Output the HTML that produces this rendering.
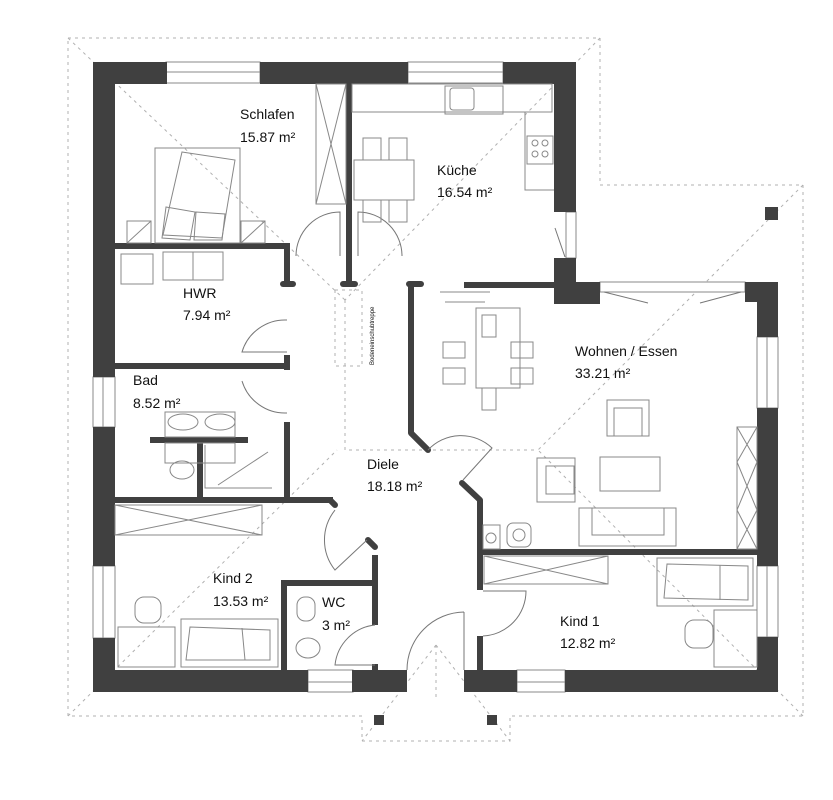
<!DOCTYPE html>
<html><head><meta charset="utf-8"><style>
html,body{margin:0;padding:0;background:#fff}
svg{display:block}
text{font-family:"Liberation Sans",sans-serif;font-size:14px;fill:#111}
</style></head><body>
<svg width="833" height="800" viewBox="0 0 833 800" xmlns="http://www.w3.org/2000/svg">
<g fill="none" stroke="#b0b0b0" stroke-width="1" stroke-dasharray="3,4">
<path d="M68,38 L600,38 L600,185 L803,185 L803,716 L510,716 L510,741 L362,741 L362,716 L68,716 Z"/>
<path d="M68,38 L345,300 M600,38 L345,300 M345,300 L345,450 L538,450 M68,716 L337,450 M803,185 L538,450 M803,716 L538,450 M436,645 L362,741 M436,645 L510,741 M436,645 L436,700"/>
<rect x="335" y="290" width="27" height="76"/>
</g>
<g fill="#fff" stroke="#888" stroke-width="1">
<rect x="166" y="62" width="94" height="21"/><line x1="166" y1="72" x2="260" y2="72"/>
<rect x="408" y="62" width="95" height="21"/><line x1="408" y1="72" x2="503" y2="72"/>
<rect x="566" y="212" width="10" height="46"/>
<rect x="600" y="282" width="145" height="10"/>
<rect x="757" y="337" width="21" height="71"/><line x1="767" y1="337" x2="767" y2="408"/>
<rect x="757" y="566" width="21" height="71"/><line x1="767" y1="566" x2="767" y2="637"/>
<rect x="517" y="670" width="48" height="22"/><line x1="517" y1="682" x2="565" y2="682"/>
<rect x="308" y="670" width="45" height="22"/><line x1="308" y1="682" x2="353" y2="682"/>
<rect x="93" y="377" width="22" height="50"/><line x1="103" y1="377" x2="103" y2="427"/>
<rect x="93" y="566" width="22" height="72"/><line x1="103" y1="566" x2="103" y2="638"/>
</g>
<g fill="#404040">
<rect x="93" y="62" width="74" height="22"/>
<rect x="260" y="62" width="148" height="22"/>
<rect x="503" y="62" width="73" height="22"/>
<rect x="554" y="62" width="22" height="150"/>
<path d="M554,258 L576,258 L576,282 L600,282 L600,304 L554,304 Z"/>
<rect x="464" y="282" width="90" height="6"/>
<path d="M745,282 L778,282 L778,337 L757,337 L757,302 L745,302 Z"/>
<rect x="757" y="408" width="21" height="158"/>
<rect x="757" y="637" width="21" height="55"/>
<rect x="565" y="670" width="213" height="22"/>
<rect x="464" y="670" width="53" height="22"/>
<rect x="352" y="670" width="55" height="22"/>
<rect x="93" y="670" width="215" height="22"/>
<rect x="93" y="62" width="22" height="315"/>
<rect x="93" y="427" width="22" height="139"/>
<rect x="93" y="638" width="22" height="54"/>
<rect x="115" y="243" width="175" height="6"/>
<rect x="284" y="243" width="6" height="43"/><rect x="280" y="281" width="16" height="6" rx="3"/>
<rect x="284" y="355" width="6" height="15"/>
<rect x="115" y="363" width="175" height="6"/>
<rect x="284" y="422" width="6" height="78"/>
<rect x="115" y="497" width="218" height="6"/>
<rect x="150" y="437" width="98" height="6"/>
<rect x="197" y="437" width="6" height="62"/>
<rect x="346" y="83" width="6" height="202"/><rect x="340" y="281" width="18" height="6" rx="3"/>
<rect x="406" y="281" width="18" height="6" rx="3"/>
<rect x="408" y="286" width="6" height="147"/>
<rect x="281" y="580" width="97" height="6"/>
<rect x="281" y="580" width="6" height="90"/>
<rect x="372" y="555" width="6" height="70"/>
<rect x="372" y="664" width="6" height="6"/>
<rect x="477" y="500" width="6" height="90"/>
<rect x="477" y="636" width="6" height="34"/>
<rect x="480" y="549" width="277" height="6"/>
<rect x="765" y="207" width="13" height="13"/>
<rect x="374" y="715" width="10" height="10"/>
<rect x="487" y="715" width="10" height="10"/>
</g>
<g stroke="#404040" stroke-width="6" stroke-linecap="round" fill="none">
<path d="M411,433 L428,450"/><path d="M462,483 L480,500"/>
<path d="M330,500 L335,505"/><path d="M368,540 L375,547"/>
</g>
<g fill="none" stroke="#777" stroke-width="1">
<path d="M296,256 A44,44 0 0 1 340,212 L340,256"/>
<path d="M402,256 A44,44 0 0 0 358,212 L358,256"/>
<path d="M287,320 A45,45 0 0 0 242,352 L287,352"/>
<path d="M287,413 A45,45 0 0 1 242,381"/>
<path d="M335,510 A48,48 0 0 0 335,570 L367,540"/>
<path d="M428,450 A45,45 0 0 1 492,448 L463,480"/>
<path d="M483,591 L526,591 A45,45 0 0 1 483,636"/>
<path d="M375,625 A45,45 0 0 0 335,665 L375,665"/>
<path d="M464,612 A58,58 0 0 0 407,670 M464,612 L464,670"/>
<path d="M555,228 L565,257 M604,292 L648,303 M741,292 L700,303"/>
</g>
<g fill="none" stroke="#888" stroke-width="1">
<rect x="155" y="148" width="85" height="95"/>
<path d="M182,152 L235,160 L222,238 L163,235 Z"/>
<path d="M166,207 L195,212 L190,240 L162,238 Z M196,212 L225,214 L222,240 L194,240 Z"/>
<rect x="127" y="221" width="24" height="22"/><path d="M127,243 L151,221"/>
<rect x="241" y="221" width="24" height="22"/><path d="M241,243 L265,221"/>
<rect x="316" y="84" width="30" height="120"/><path d="M316,84 L346,204 M346,84 L316,204"/>
<rect x="354" y="160" width="60" height="40"/>
<rect x="363" y="138" width="18" height="22"/><rect x="389" y="138" width="18" height="22"/>
<rect x="363" y="200" width="18" height="22"/><rect x="389" y="200" width="18" height="22"/>
<rect x="445" y="86" width="58" height="28"/><rect x="450" y="88" width="24" height="22" rx="3"/>
<rect x="352" y="84" width="200" height="28"/>
<path d="M525,112 L525,190 L554,190"/>
<rect x="527" y="136" width="26" height="28"/>
<circle cx="535" cy="143" r="3"/><circle cx="545" cy="143" r="3"/><circle cx="535" cy="154" r="3"/><circle cx="545" cy="154" r="3"/>
<rect x="121" y="254" width="32" height="30"/><rect x="163" y="252" width="30" height="28"/><rect x="193" y="252" width="30" height="28"/>
<rect x="165" y="443" width="70" height="20"/><ellipse cx="183" cy="422" rx="15" ry="8"/><ellipse cx="220" cy="422" rx="15" ry="8"/>
<rect x="165" y="412" width="70" height="25"/>
<ellipse cx="182" cy="470" rx="12" ry="9"/>
<path d="M205,445 L205,488 L272,488 M218,485 L268,452"/>
<rect x="115" y="505" width="147" height="30"/><path d="M115,505 L262,535 M115,535 L262,505"/>
<rect x="476" y="308" width="44" height="80"/>
<rect x="482" y="315" width="14" height="22"/><rect x="482" y="388" width="14" height="22"/>
<rect x="443" y="342" width="22" height="16"/><rect x="443" y="368" width="22" height="16"/>
<rect x="511" y="342" width="22" height="16"/><rect x="511" y="368" width="22" height="16"/>
<rect x="607" y="400" width="42" height="36"/><rect x="614" y="408" width="28" height="28"/>
<rect x="537" y="458" width="38" height="44"/><rect x="546" y="466" width="28" height="28"/>
<rect x="600" y="457" width="60" height="34"/>
<rect x="579" y="508" width="97" height="38"/><rect x="592" y="508" width="72" height="27"/>
<rect x="737" y="427" width="20" height="122"/><path d="M737,427 L757,462 M757,427 L737,462 M737,462 L757,510 M757,462 L737,510 M737,510 L757,549 M757,510 L737,549"/>
<rect x="483" y="525" width="17" height="24"/><circle cx="491" cy="538" r="5"/>
<rect x="507" y="523" width="24" height="24" rx="6"/><circle cx="519" cy="535" r="6"/>
<rect x="484" y="556" width="124" height="28"/><path d="M484,556 L608,584 M484,584 L608,556"/>
<rect x="657" y="558" width="96" height="48"/><path d="M667,564 L748,566 L748,600 L664,598 Z M720,565 L720,600"/>
<rect x="714" y="610" width="43" height="57"/>
<rect x="685" y="620" width="28" height="28" rx="9"/>
<rect x="118" y="627" width="57" height="40"/>
<rect x="135" y="597" width="26" height="26" rx="9"/>
<rect x="181" y="619" width="97" height="48"/><path d="M190,627 L270,630 L270,660 L186,660 Z M242,628 L245,660"/>
<rect x="297" y="597" width="18" height="24" rx="8"/>
<ellipse cx="308" cy="648" rx="12" ry="10"/>
<path d="M440,292 L490,292 M445,302 L485,302"/>
</g>
<text x="240" y="119">Schlafen</text><text x="240" y="142">15.87 m²</text>
<text x="437" y="175">Küche</text><text x="437" y="197">16.54 m²</text>
<text x="183" y="298">HWR</text><text x="183" y="320">7.94 m²</text>
<text x="133" y="385">Bad</text><text x="133" y="408">8.52 m²</text>
<text x="575" y="356">Wohnen / Essen</text><text x="575" y="378">33.21 m²</text>
<text x="367" y="469">Diele</text><text x="367" y="491">18.18 m²</text>
<text x="213" y="583">Kind 2</text><text x="213" y="606">13.53 m²</text>
<text x="322" y="607">WC</text><text x="322" y="630">3 m²</text>
<text x="560" y="626">Kind 1</text><text x="560" y="648">12.82 m²</text>
<text x="374" y="365" transform="rotate(-90 374 365)" style="font-size:6px">Bodeneinschubtreppe</text>
</svg>
</body></html>
